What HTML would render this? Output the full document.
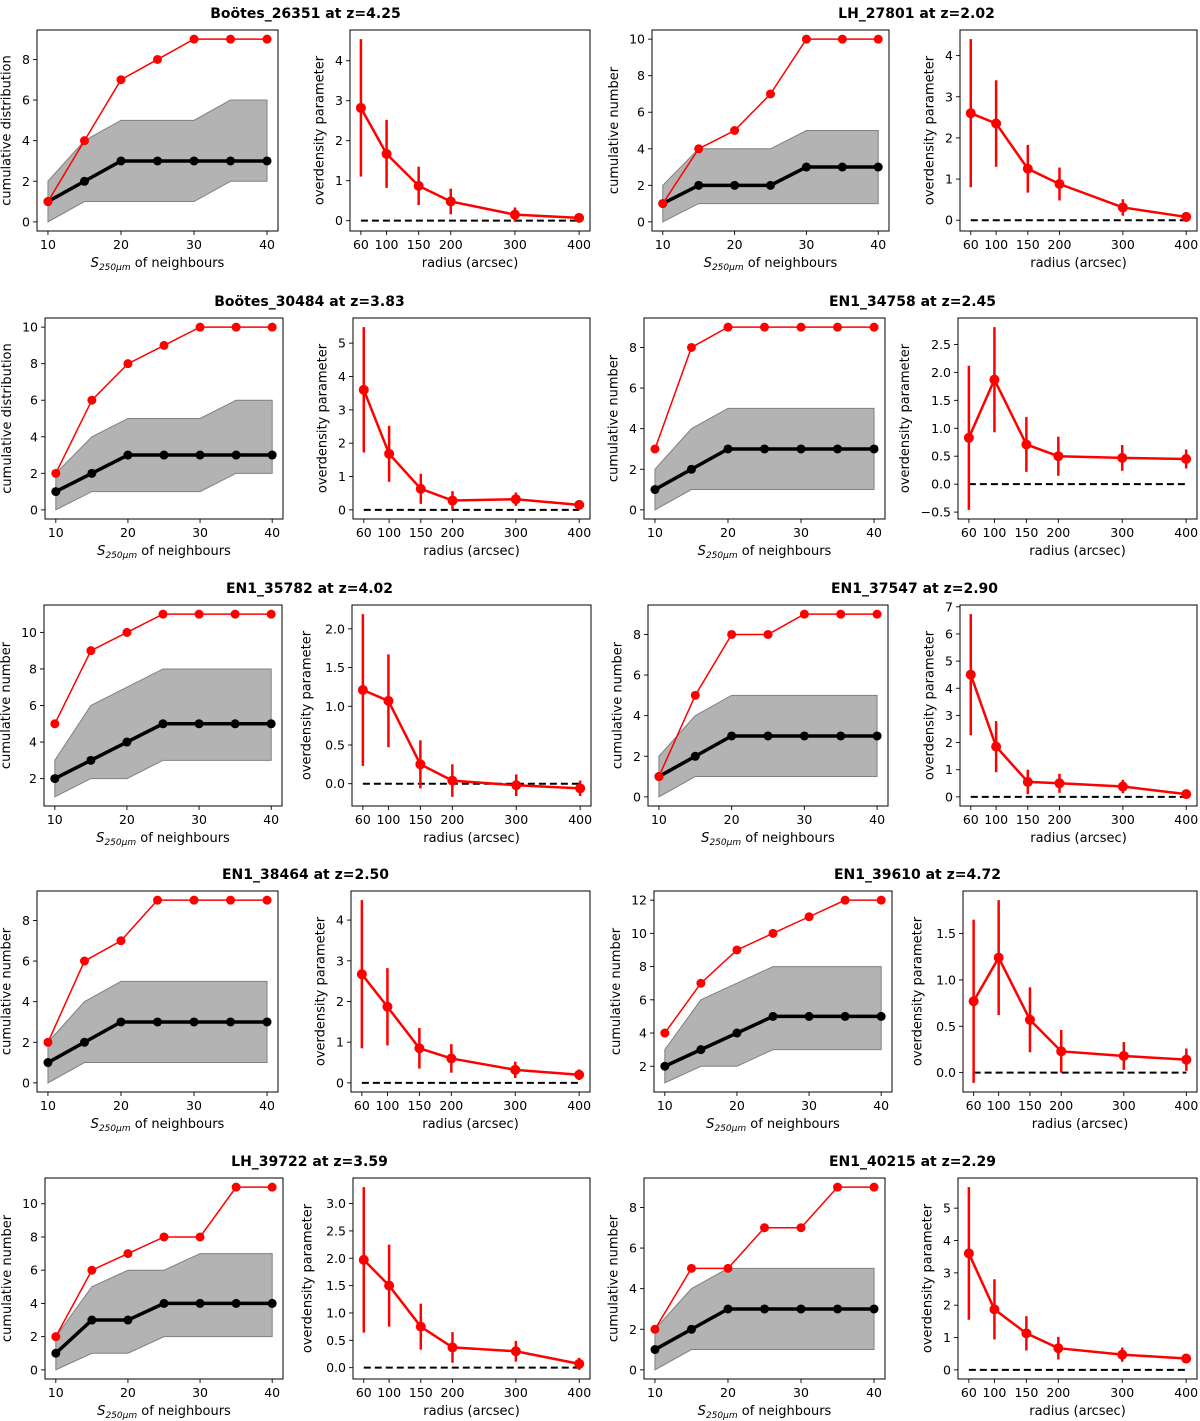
<!DOCTYPE html>
<html><head><meta charset="utf-8"><style>
body{margin:0;background:#fff;}
svg{display:block;font-family:"DejaVu Sans","Liberation Sans",sans-serif;}
</style></head><body>
<svg id="fig" width="1200" height="1421" viewBox="0 0 1200 1421"></svg>
<script>
// ---- data ----
const titles = ["Boötes_26351 at z=4.25","LH_27801 at z=2.02","Boötes_30484 at z=3.83","EN1_34758 at z=2.45","EN1_35782 at z=4.02","EN1_37547 at z=2.90","EN1_38464 at z=2.50","EN1_39610 at z=4.72","LH_39722 at z=3.59","EN1_40215 at z=2.29"];
const cumYLabels = ["cumulative distribution","cumulative number","cumulative distribution","cumulative number","cumulative number","cumulative number","cumulative number","cumulative number","cumulative number","cumulative number"];
const fluxBins = [10,15,20,25,30,35,40];
const radii = [60,100,150,200,300,400];
const radiusTicks = [60,100,150,200,300,400];
const fluxTicks = [10,20,30,40];
const redCum = [[1,4,7,8,9,9,9],[1,4,5,7,10,10,10],[2,6,8,9,10,10,10],[3,8,9,9,9,9,9],[5,9,10,11,11,11,11],[1,5,8,8,9,9,9],[2,6,7,9,9,9,9],[4,7,9,10,11,12,12],[2,6,7,8,8,11,11],[2,5,5,7,7,9,9]];
const blackCum = [[1,2,3,3,3,3,3],[1,2,2,2,3,3,3],[1,2,3,3,3,3,3],[1,2,3,3,3,3,3],[2,3,4,5,5,5,5],[1,2,3,3,3,3,3],[1,2,3,3,3,3,3],[2,3,4,5,5,5,5],[1,3,3,4,4,4,4],[1,2,3,3,3,3,3]];
const bandLo = [[0,1,1,1,1,2,2],[0,1,1,1,1,1,1],[0,1,1,1,1,2,2],[0,1,1,1,1,1,1],[1,2,2,3,3,3,3],[0,1,1,1,1,1,1],[0,1,1,1,1,1,1],[1,2,2,3,3,3,3],[0,1,1,2,2,2,2],[0,1,1,1,1,1,1]];
const bandHi = [[2,4,5,5,5,6,6],[2,4,4,4,5,5,5],[2,4,5,5,5,6,6],[2,4,5,5,5,5,5],[3,6,7,8,8,8,8],[2,4,5,5,5,5,5],[2,4,5,5,5,5,5],[3,6,7,8,8,8,8],[2,5,6,6,7,7,7],[2,4,5,5,5,5,5]];
const odVal = [[2.82,1.67,0.87,0.48,0.15,0.07],[2.6,2.35,1.25,0.88,0.31,0.08],[3.6,1.68,0.63,0.28,0.32,0.15],[0.83,1.87,0.71,0.5,0.47,0.45],[1.21,1.07,0.25,0.04,-0.02,-0.06],[4.5,1.85,0.55,0.5,0.38,0.1],[2.67,1.87,0.85,0.6,0.32,0.2],[0.77,1.24,0.57,0.23,0.18,0.14],[1.97,1.5,0.75,0.37,0.3,0.07],[3.6,1.87,1.13,0.67,0.47,0.35]];
const odErr = [[1.72,0.85,0.48,0.32,0.18,0.08],[1.8,1.05,0.58,0.4,0.2,0.12],[1.88,0.84,0.45,0.28,0.2,0.1],[1.29,0.94,0.49,0.35,0.23,0.17],[0.98,0.6,0.31,0.21,0.14,0.1],[2.23,0.94,0.45,0.35,0.25,0.1],[1.82,0.95,0.5,0.35,0.2,0.13],[0.88,0.62,0.35,0.23,0.15,0.12],[1.33,0.75,0.42,0.28,0.19,0.11],[2.05,0.93,0.53,0.35,0.22,0.12]];
// ---- layout ----
const rowTop=[30,318,605,891,1178], PH=201;
const frames=[ // [cumX0,cumX1,odX0,odX1]
 [37,278,350,590],[652,889,960,1197],
 [45,283,353,590],[644,885,958,1197],
 [44,282,352,591],[648,888,960,1197],
 [37,278,351,590],[654,892,963,1197],
 [45,283,353,590],[644,885,958,1197]];
const NS="http://www.w3.org/2000/svg";
const svg=document.getElementById('fig');
function mk(tag,attrs,parent,text){const e=document.createElementNS(NS,tag);for(const k in attrs)e.setAttribute(k,attrs[k]);if(text!==undefined)e.textContent=text;(parent||svg).appendChild(e);return e;}
function niceStep(range){const steps=[1,2,2.5,5,10];const mag=Math.pow(10,Math.floor(Math.log10(range))-1);for(let m=0;m<4;m++){for(const s of steps){const st=s*mag*Math.pow(10,m);if(range/st<=8)return st;}}return range;}
function fmt(v,dec){let s=Math.abs(v).toFixed(dec);if(Math.abs(v)<1e-9)return (0).toFixed(dec);return (v<0?"\u2212":"")+s;}
function yTicks(g,lo,hi,x0,Y){const st=niceStep(hi-lo);const dec=st<1?1:0;let maxc=1;for(let t=Math.ceil(lo/st-1e-9)*st;t<=hi+1e-9;t+=st){const y=Y(t);
 const tk=mk('line',{x1:x0-4,x2:x0,y1:y,y2:y,stroke:'#000','stroke-width':0.9},g);
 
 const s=fmt(t,dec);maxc=Math.max(maxc,s.length);
 const tl=mk('text',{x:x0-7,y:y+4.5,'text-anchor':'end','font-size':12.5},g,s);
 }
 return 19+7.5*maxc;}
function xTicks(g,vals,X,y1){vals.forEach(v=>{const x=X(v);
 const tk=mk('line',{x1:x,x2:x,y1:y1,y2:y1+4,stroke:'#000','stroke-width':0.9},g);
 
 const tl=mk('text',{x:x,y:y1+18,'text-anchor':'middle','font-size':12.5},g,String(v));
 });}
for(let i=0;i<10;i++){
 const row=Math.floor(i/2), fr=frames[i], y0=rowTop[row], y1=y0+PH;
 const g=mk('g',{});
 const t=mk('text',{x:(fr[0]+fr[3])/2-8,y:y0-12,'text-anchor':'middle','font-size':14,'font-weight':'bold'},g,titles[i]);
 
 // cumulative panel
 const gc=mk('g',{},g);
 const cx0=fr[0],cx1=fr[1];
 const X=v=>cx0+(v-8.5)/33*(cx1-cx0);
 let lo=Math.min(...bandLo[i],...blackCum[i],...redCum[i]),hi=Math.max(...bandHi[i],...redCum[i]);
 const m=(hi-lo)*0.05;const ylo=lo-m,yhi=hi+m;
 const Y=v=>y1-(v-ylo)/(yhi-ylo)*PH;
 let pts=fluxBins.map((f,k)=>X(f)+','+Y(bandHi[i][k])).concat(fluxBins.slice().reverse().map((f,k)=>X(f)+','+Y(bandLo[i][fluxBins.length-1-k])));
 const band=mk('polygon',{points:pts.join(' '),fill:'#b3b3b3',stroke:'#808080','stroke-width':1},gc);
 
 const bl=mk('polyline',{points:fluxBins.map((f,k)=>X(f)+','+Y(blackCum[i][k])).join(' '),fill:'none',stroke:'#000','stroke-width':3.5},gc);
 
 fluxBins.forEach((f,k)=>{const c=mk('circle',{cx:X(f),cy:Y(blackCum[i][k]),r:4.5,fill:'#000'},gc);});
 const rl=mk('polyline',{points:fluxBins.map((f,k)=>X(f)+','+Y(redCum[i][k])).join(' '),fill:'none',stroke:'#f00','stroke-width':1.5},gc);
 
 fluxBins.forEach((f,k)=>{const c=mk('circle',{cx:X(f),cy:Y(redCum[i][k]),r:4.5,fill:'#f00'},gc);});
 const fc=mk('rect',{x:cx0,y:y0,width:cx1-cx0,height:PH,fill:'none',stroke:'#000','stroke-width':1},gc);
 
 const coff=yTicks(gc,ylo,yhi,cx0,Y);xTicks(gc,fluxTicks,X,y1);
 const xl=mk('text',{x:(cx0+cx1)/2,y:y1+36,'text-anchor':'middle','font-size':13},gc);
 
 mk('tspan',{'font-style':'italic'},xl,'S');mk('tspan',{'font-style':'italic','font-size':9,dy:3},xl,'250μm');mk('tspan',{dy:-3},xl,' of neighbours');
 const yl=mk('text',{x:0,y:0,'text-anchor':'middle','font-size':13,transform:`translate(${cx0-coff},${y0+PH/2}) rotate(-90)`},gc,cumYLabels[i]);
 
 // overdensity panel
 const go=mk('g',{},g);
 const ox0=fr[2],ox1=fr[3];
 const XO=v=>ox0+(v-43)/374*(ox1-ox0);
 let olo=Math.min(0,...odVal[i].map((v,k)=>v-odErr[i][k])),ohi=Math.max(...odVal[i].map((v,k)=>v+odErr[i][k]));
 const om=(ohi-olo)*0.05;const oylo=olo-om,oyhi=ohi+om;
 const YO=v=>y1-(v-oylo)/(oyhi-oylo)*PH;
 const dl=mk('line',{x1:XO(radii[0]),x2:XO(radii[radii.length-1]),y1:YO(0),y2:YO(0),stroke:'#000','stroke-width':2,'stroke-dasharray':'7,4'},go);
 
 const ol=mk('polyline',{points:radii.map((r,k)=>XO(r)+','+YO(odVal[i][k])).join(' '),fill:'none',stroke:'#f00','stroke-width':2.5},go);
 
 radii.forEach((r,k)=>{
  const e=mk('line',{x1:XO(r),x2:XO(r),y1:YO(odVal[i][k]-odErr[i][k]),y2:YO(odVal[i][k]+odErr[i][k]),stroke:'#f00','stroke-width':2.5},go);
  
  const c=mk('circle',{cx:XO(r),cy:YO(odVal[i][k]),r:5,fill:'#f00'},go);
  });
 const fo=mk('rect',{x:ox0,y:y0,width:ox1-ox0,height:PH,fill:'none',stroke:'#000','stroke-width':1},go);
 
 const ooff=yTicks(go,oylo,oyhi,ox0,YO);xTicks(go,radiusTicks,XO,y1);
 const oxl=mk('text',{x:(ox0+ox1)/2,y:y1+36,'text-anchor':'middle','font-size':13},go,'radius (arcsec)');
 
 const oyl=mk('text',{x:0,y:0,'text-anchor':'middle','font-size':13,transform:`translate(${ox0-ooff},${y0+PH/2}) rotate(-90)`},go,'overdensity parameter');
 
}
</script>
</body></html>
